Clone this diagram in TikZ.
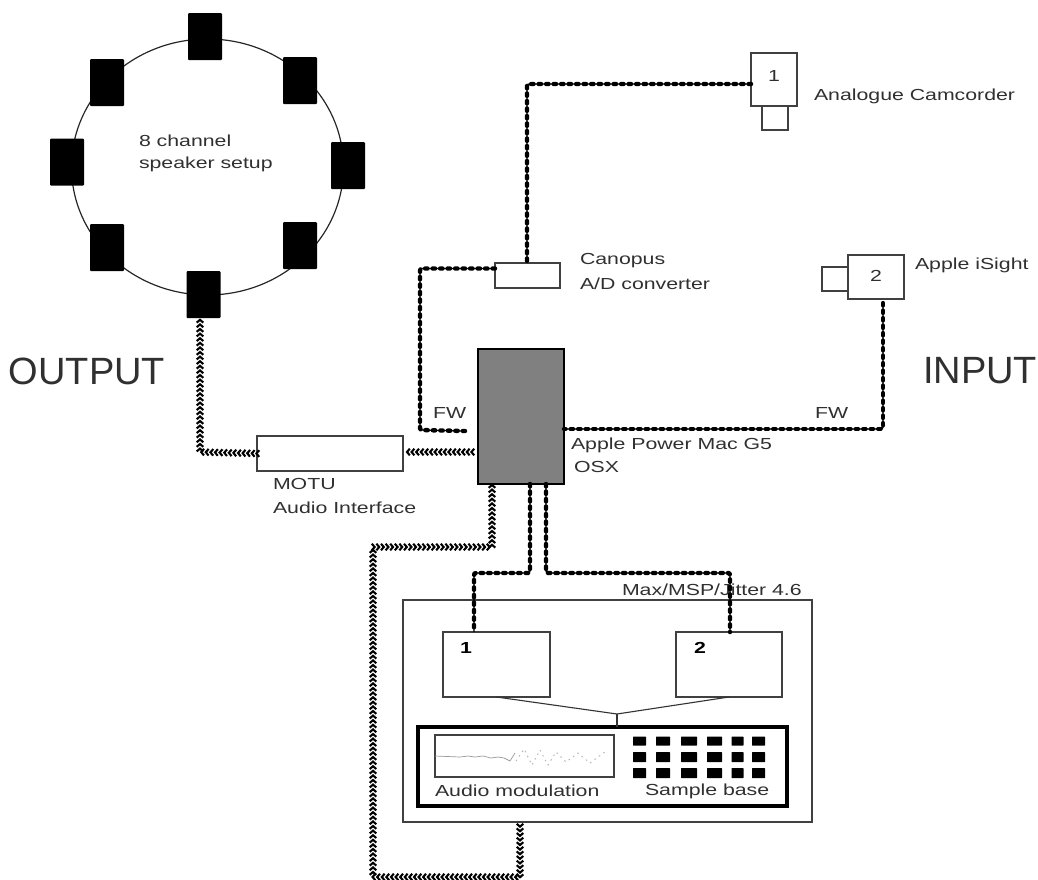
\documentclass[tikz,border=0pt]{standalone}
\usepackage{graphicx}
\usepackage{fontspec}
\setmainfont{Liberation Sans}
\usetikzlibrary{decorations.markings}
\definecolor{txt}{HTML}{303030}
\newcommand{\lbl}[1]{\scalebox{1.33}[1]{#1}}
\tikzset{
  x=1pt,y=-1pt,
  box/.style={draw=black!75,line width=1.2pt,fill=white,inner sep=0,outer sep=0},
  speaker/.style={fill=black,rounded corners=1pt,inner sep=0,outer sep=0,minimum width=34,minimum height=47},
  cell/.style={fill=black,rounded corners=0.5pt,inner sep=0,outer sep=0},
  lab/.style={anchor=west,inner sep=0,outer sep=0,text=txt,font=\fontsize{16}{19}\selectfont},
  biglab/.style={anchor=west,inner sep=0,outer sep=0,text=txt,font=\fontsize{38}{44}\selectfont},
  dotcable/.style={draw=black,line width=1.2pt,rounded corners=2pt,
    postaction={draw,line width=4.4pt,line cap=round,dash pattern=on 2.4pt off 5.1pt}},
  chevcable/.style={postaction={decorate,decoration={markings,
    mark=between positions 0 and 1 step 4.6pt with {
      \draw[black,line width=2.1pt,line join=miter] (-2.2pt,3.3pt)--(0.6pt,0pt)--(-2.2pt,-3.3pt);}}}},
  thin/.style={draw=black!80,line width=1.1pt}
}
\begin{document}
\begin{tikzpicture}
\useasboundingbox (0,0) rectangle (1038,879);
% speaker ring
\draw[draw=black!85,line width=1.2pt] (207.5,167) ellipse [x radius=136pt,y radius=128pt];
\node[speaker] (sp1) at (205,36.5) {};
\node[speaker] (sp2) at (300,80.5) {};
\node[speaker] (sp3) at (348,165.5) {};
\node[speaker] (sp4) at (300,245.5) {};
\node[speaker] (sp5) at (203.5,294.5) {};
\node[speaker] (sp6) at (107,247.5) {};
\node[speaker] (sp7) at (67,162) {};
\node[speaker] (sp8) at (107,82.5) {};
\node[lab] (ringa) at (139,141) {\lbl{8 channel}};
\node[lab] (ringb) at (139,164) {\lbl{speaker setup}};
% side titles
\node[biglab] (out) at (9,371) {OUTPUT};
\node[biglab] (inp) at (923,371) {INPUT};
% devices
\node[box,minimum width=26,minimum height=24] (camlens) at (775,118) {};
\node[box,minimum width=46,minimum height=53] (cam) at (774,79.5) {};
\node[lab] (camn) at (768,76) {\lbl{1}};
\node[lab] (camt) at (814,96) {\lbl{Analogue Camcorder}};
\node[box,minimum width=65,minimum height=25] (canopus) at (527.5,275.5) {};
\node[lab] (cana) at (580,261) {\lbl{Canopus}};
\node[lab] (canb) at (580,284) {\lbl{A/D converter}};
\node[box,minimum width=26,minimum height=24] (islens) at (835,279) {};
\node[box,minimum width=56,minimum height=44] (isight) at (876,277) {};
\node[lab] (isn) at (870,276) {\lbl{2}};
\node[lab] (ist) at (915,265) {\lbl{Apple iSight}};
\node[box,draw=black,line width=1.6pt,fill=black!50,minimum width=86,minimum height=135] (g5) at (521,416.5) {};
\node[lab] (g5a) at (571,445) {\lbl{Apple Power Mac G5}};
\node[lab] (g5b) at (574,467) {\lbl{OSX}};
\node[lab] (fwl) at (433,413) {\lbl{FW}};
\node[lab] (fwr) at (815,413) {\lbl{FW}};
\node[box,minimum width=146,minimum height=35] (motu) at (330,453.5) {};
\node[lab] (motua) at (273,484) {\lbl{MOTU}};
\node[lab] (motub) at (273,508) {\lbl{Audio Interface}};
% Max patch
\node[box,minimum width=409,minimum height=222] (max) at (607.5,711) {};
\node[lab] (maxt) at (622,590) {\lbl{Max/MSP/Jitter 4.6}};
\node[box,minimum width=107,minimum height=65] (one) at (496.5,664.5) {};
\node[box,minimum width=106,minimum height=65] (two) at (729,664.5) {};
\node[lab,font=\fontsize{16}{19}\bfseries\selectfont,text=black] (onen) at (460,648) {\lbl{1}};
\node[lab,font=\fontsize{16}{19}\bfseries\selectfont,text=black] (twon) at (694,648) {\lbl{2}};
\coordinate (join) at (617,714);
\node[box,draw=black,line width=3.6pt,minimum width=369,minimum height=79] (base) at (602.5,766.5) {};
\draw[thin] (one.south) -- (join);
\draw[thin] (two.south) -- (join);
\draw[thin] (join) -- (join |- base.north);
\node[box,minimum width=179,minimum height=42] (wave) at (524.5,756) {};
\draw[black!40,line width=0.7pt] (wave.west) -- ++(25,1) -- ++(8,-1) -- ++(7,1) -- ++(8,-1) -- ++(8,2) -- ++(7,-1) -- ++(6,1) -- ++(6,3) -- ++(5,-8);
\draw[black!30,line width=0.9pt,dash pattern=on 1.5pt off 4pt] (516,761) -- (524,749) -- (532,765) -- (540,750) -- (548,765) -- (556,752) -- (566,762) -- (578,753) -- (590,763) -- (606,751);
\node[lab] (auda) at (435,791) {\lbl{Audio modulation}};
\node[lab] (saml) at (645,791) {\lbl{Sample base}};
\foreach \r/\cy/\h in {a/741/9,b/757/10,c/773/10}{
  \foreach \c/\cx/\w in {1/639.5/13,2/663/14,3/689/16,4/714.5/15,5/737.5/12,6/758.5/13}{
    \node[cell,minimum width=\w,minimum height=\h] (s\r\c) at (\cx,\cy) {};
  }
}
% dotted cables
\draw[dotcable] (cam.west |- 0,84) -- (527,84) -- (527,262);
\draw[dotcable] ([yshift=7pt]canopus.west) -| (420,430) -- (465,431);
\draw[dotcable] (883,303) -- (883,429) -- (g5.east |- 0,429);
\draw[dotcable] ([xshift=52pt]g5.south west) -- (530,573) -| ([xshift=-22.5pt]one.north);
\draw[dotcable] ([xshift=68pt]g5.south west) -- (546,573) -| ([xshift=1pt]two.north);
% chevron cables
\path[chevcable] (g5.west |- 0,452) ++(-6,0) -- (407,452);
\path[chevcable] (motu.west) -- (200,452) -- (200,318);
\path[chevcable] (520,826) -- (520,877) -- (373,877) -- (373,547) -- (492,547) -- (492,484);
\end{tikzpicture}
\end{document}
